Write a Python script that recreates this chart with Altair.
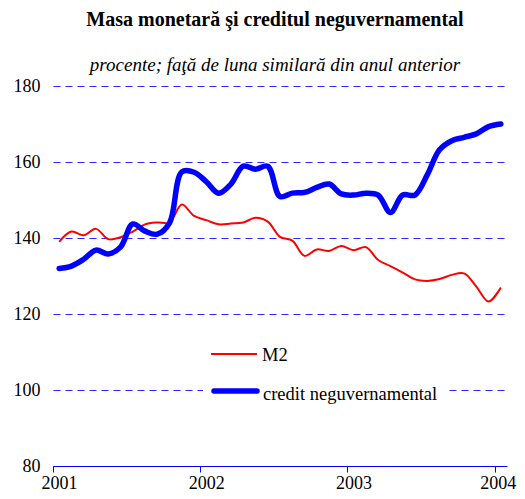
import altair as alt
import pandas as pd

years = ["2001", "2002", "2003", "2004"]
series_names = ["M2", "credit neguvernamental"]
y_ticks = [80, 100, 120, 140, 160, 180]

m2 = [139.0, 141.7, 140.7, 142.4, 139.7, 140.2, 141.7, 143.6, 144.1, 144.1,
      148.8, 145.8, 144.7, 143.6, 143.8, 144.1, 145.3, 144.3, 140.3, 139.3,
      135.3, 137.0, 136.6, 137.9, 136.8, 137.6, 134.2, 132.6, 130.9, 129.1,
      128.7, 129.2, 130.3, 130.7, 127.2, 123.3, 127.0]
credit = [132.0, 132.6, 134.4, 136.8, 135.8, 137.6, 143.7, 141.8, 141.0, 144.0,
          157.4, 157.3, 154.8, 151.8, 154.2, 158.9, 158.1, 158.9, 150.9, 151.8,
          152.0, 153.3, 154.2, 151.6, 151.3, 151.8, 151.3, 146.7, 151.3, 151.3,
          156.6, 163.2, 165.6, 166.5, 167.4, 169.3, 170.0]

FONT = "Liberation Serif"
RED = "#ff0000"
BLUE = "#0000ff"

n = len(m2)
df_m2 = pd.DataFrame({"m": list(range(n)), "v": m2})
df_cr = pd.DataFrame({"m": list(range(n)), "v": credit})

year_arr = "[" + ",".join("'%s'" % y for y in years) + "]"
tick_vals = [-0.5 + 12 * i for i in range(len(years))]

x_enc = alt.X(
    "m:Q",
    scale=alt.Scale(domain=[-0.5, n - 0.5], nice=False, zero=False),
    axis=alt.Axis(
        values=tick_vals,
        labelExpr=year_arr + "[round((datum.value + 0.5) / 12)]",
        grid=False, domain=True, domainColor=BLUE, domainWidth=1,
        ticks=True, tickColor=BLUE, tickSize=6, tickWidth=1,
        labelFont=FONT, labelFontSize=18, labelColor="black",
        labelPadding=2,
        labelOffset={"condition": {"test": "datum.value > 30", "value": 3}, "value": 6},
        labelFlush=False, title=None,
    ),
)
y_enc = alt.Y(
    "v:Q",
    scale=alt.Scale(domain=[80, 180], nice=False, zero=False),
    axis=alt.Axis(
        values=y_ticks, grid=True, gridColor=BLUE, gridDash=[7, 5], gridWidth=1,
        gridOpacity=0.85,
        domain=False, ticks=False, labelFont=FONT, labelFontSize=18,
        labelColor="black", labelPadding=13, title=None,
    ),
)

red_line = alt.Chart(df_m2).mark_line(
    color=RED, strokeWidth=2, interpolate="catmull-rom"
).encode(x=x_enc, y=y_enc)

blue_line = alt.Chart(df_cr).mark_line(
    color=BLUE, strokeWidth=5.5, interpolate="catmull-rom", strokeCap="round"
).encode(x=x_enc, y=y_enc)

one = alt.Data(values=[{}])

# legend (manual) with white background box
leg_box = alt.Chart(one).mark_rect(color="white", opacity=1).encode(
    x=alt.value(150), x2=alt.value(394), y=alt.value(250), y2=alt.value(318))
leg_red = alt.Chart(one).mark_rule(color=RED, strokeWidth=2).encode(
    x=alt.value(158), x2=alt.value(204), y=alt.value(268))
leg_blue = alt.Chart(one).mark_rule(color=BLUE, strokeWidth=5.5, strokeCap="round").encode(
    x=alt.value(161), x2=alt.value(204), y=alt.value(305))
leg_t1 = alt.Chart(one).mark_text(
    font=FONT, fontSize=18.5, align="left", baseline="middle", color="black"
).encode(x=alt.value(209), y=alt.value(269), text=alt.value(series_names[0]))
leg_t2 = alt.Chart(one).mark_text(
    font=FONT, fontSize=18.5, align="left", baseline="middle", color="black"
).encode(x=alt.value(210), y=alt.value(308), text=alt.value(series_names[1]))

title = alt.Chart(one).mark_text(
    font=FONT, fontSize=20, fontWeight="bold", align="center",
    baseline="alphabetic", color="black"
).encode(x=alt.value(222), y=alt.value(-60),
         text=alt.value("Masa monetară şi creditul neguvernamental"))
subtitle = alt.Chart(one).mark_text(
    font=FONT, fontSize=19, fontStyle="italic", align="center",
    baseline="alphabetic", color="black"
).encode(x=alt.value(222), y=alt.value(-15),
         text=alt.value("procente; faţă de luna similară din anul anterior"))

chart = alt.layer(
    red_line, blue_line, leg_box, leg_red, leg_blue, leg_t1, leg_t2, title, subtitle
).properties(
    width=454, height=380,
    autosize=alt.AutoSizeParams(type="none"),
    padding={"left": 45, "top": 78, "right": 10, "bottom": 25},
).configure_view(stroke=None)

chart.save("out.html", embed_options={"renderer": "svg", "actions": False})
